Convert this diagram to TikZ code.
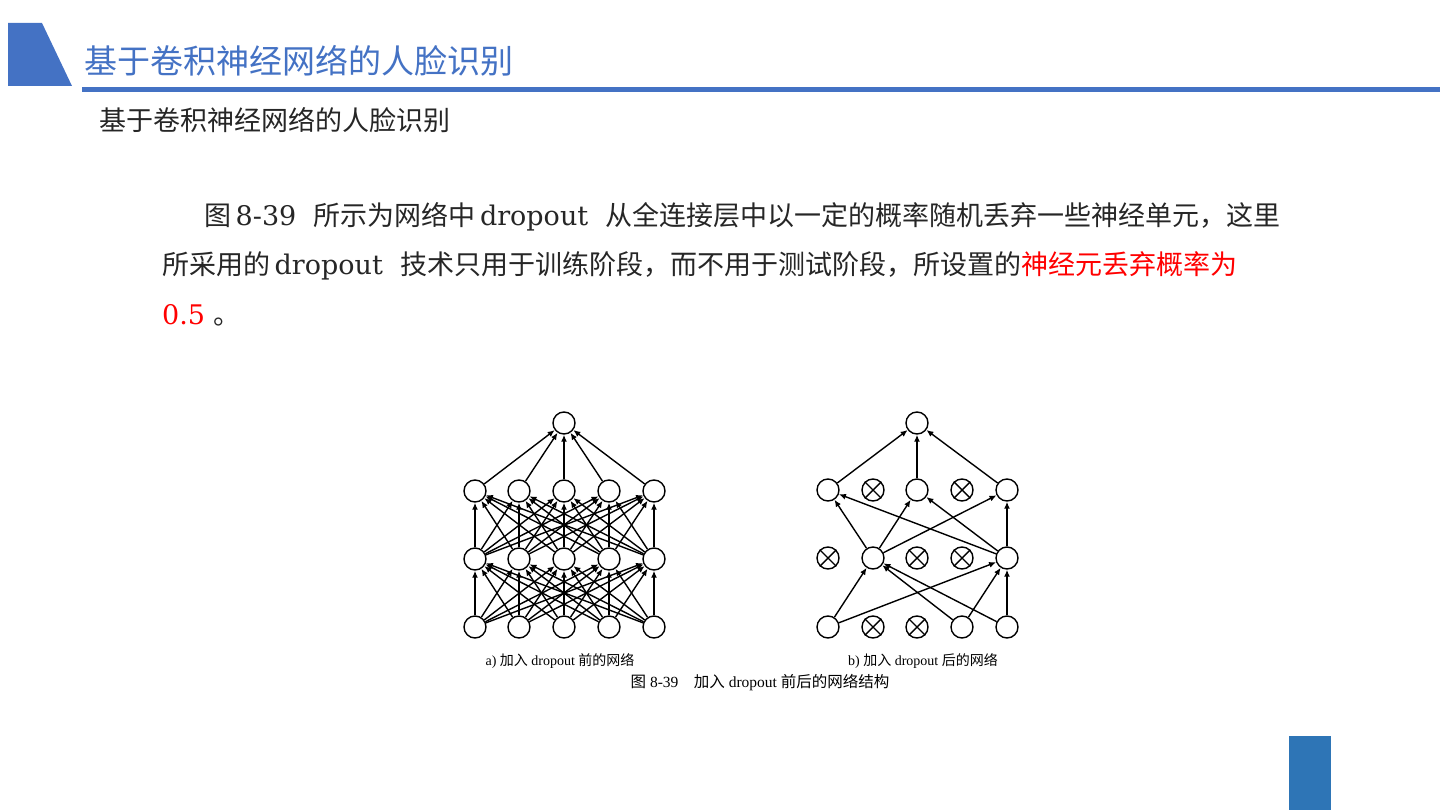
\documentclass[tikz,border=0pt]{standalone}
\usepackage{fontspec}
\setmainfont{DejaVu Serif}
\newfontfamily\cjk{Noto Sans CJK SC}
\newfontfamily\capserif{Liberation Serif}
\usetikzlibrary{arrows.meta}
\definecolor{titleblue}{HTML}{4472C4}
\definecolor{barblue}{HTML}{2E75B6}
\definecolor{hotred}{HTML}{FF0000}

\begin{document}
\begin{tikzpicture}[
  x=1pt, y=-1pt,
  unit/.style={draw, circle, minimum size=22pt, inner sep=0pt, line width=1.4pt, fill=white},
  wire/.style={-{Latex[length=7pt,width=6pt]}, line width=1.4pt},
  heading/.style={font=\cjk\fontsize{33}{38}\selectfont, text=titleblue, anchor=base west, inner sep=0pt},
  subhead/.style={font=\cjk\fontsize{27}{30}\selectfont, text=black!85, anchor=base west, inner sep=0pt},
  body/.style={font=\fontsize{27}{30}\selectfont, text=black!85, anchor=base west, inner sep=0pt},
  figcap/.style={font=\capserif\fontsize{14}{16}\selectfont, inner sep=0pt},
]
  \useasboundingbox (0,0) rectangle (1440,810);

  % Slide frame: title tab, rule and corner bar.
  \fill[titleblue] (8,23) -- (42,23) -- (72,86) -- (8,86) -- cycle;
  \fill[titleblue] (82,87) rectangle (1440,92);
  \fill[barblue] (1289,736) rectangle (1331,810);
  \node[heading] (title) at (84,74) {基于卷积神经网络的人脸识别};
  \node[subhead] (sub) at (99,131) {基于卷积神经网络的人脸识别};

  % Paragraph text, red part as in the slide.
  \node[body] (p1) at (204,226)
    {{\cjk 图}\,8-39\ \ {\cjk 所示为网络中}\,dropout\ \ {\cjk 从全连接层中以一定的概率随机丢弃一些神经单元，这里}};
  \node[body] (p2) at (162,275)
    {{\cjk 所采用的}\,dropout\ \ {\cjk 技术只用于训练阶段，而不用于测试阶段，所设置的\textcolor{hotred}{神经元丢弃概率为}}};
  \node[body] (p3) at (162,324) {\textcolor{hotred}{0.5}\ {\cjk 。}};

  % a) full network before dropout
  \node[unit] (at) at (564,423) {};
  \foreach \c/\x in {1/475,2/519,3/564,4/609,5/654} {
    \node[unit] (a1-\c) at (\x,491) {};
    \node[unit] (a2-\c) at (\x,559) {};
    \node[unit] (a3-\c) at (\x,627) {};
  }
  \foreach \i in {1,...,5} {
    \draw[wire] (a1-\i) -- (at);
    \foreach \j in {1,...,5} {
      \draw[wire] (a3-\i) -- (a2-\j);
      \draw[wire] (a2-\i) -- (a1-\j);
    }
  }

  % b) thinned network after dropout
  \node[unit] (bt) at (917,423) {};
  \foreach \c/\x in {1/828,2/873,3/917,4/962,5/1007} {
    \node[unit] (b1-\c) at (\x,490) {};
    \node[unit] (b2-\c) at (\x,558) {};
    \node[unit] (b3-\c) at (\x,627) {};
  }
  \foreach \n in {b1-2,b1-4,b2-1,b2-3,b2-4,b3-2,b3-3}
    \draw[line width=1.4pt] (\n.45) -- (\n.225) (\n.135) -- (\n.315);
  \foreach \s/\t in {b3-1/b2-2, b3-1/b2-5, b3-4/b2-2, b3-4/b2-5, b3-5/b2-2, b3-5/b2-5,
                     b2-2/b1-1, b2-2/b1-3, b2-2/b1-5, b2-5/b1-1, b2-5/b1-3, b2-5/b1-5,
                     b1-1/bt, b1-3/bt, b1-5/bt}
    \draw[wire] (\s) -- (\t);

  % captions
  \node[figcap] (capa) at (560,661) {a)\ {\cjk 加入}\ dropout\ {\cjk 前的网络}};
  \node[figcap] (capb) at (923,661) {b)\ {\cjk 加入}\ dropout\ {\cjk 后的网络}};
  \node[figcap, font=\capserif\fontsize{15.5}{17}\selectfont] (fig) at (760,683)
    {{\cjk 图}\ 8-39\quad{\cjk 加入}\ dropout\ {\cjk 前后的网络结构}};
\end{tikzpicture}
\end{document}
